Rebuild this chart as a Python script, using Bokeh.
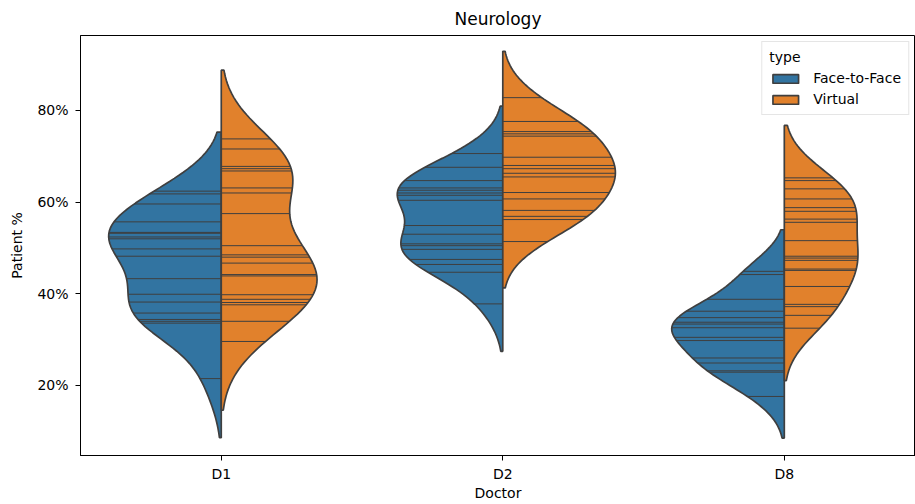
import numpy as np
from bokeh.plotting import figure
from bokeh.models import FixedTicker, Legend, LegendItem
from bokeh.embed import file_html
from bokeh.resources import INLINE

doctors = ["D1", "D2", "D8"]
types = ["Face-to-Face", "Virtual"]
colors = ["#3274a1", "#e1812c"]
y_ticks = [20, 40, 60, 80]
y_tick_labels = ["20%", "40%", "60%", "80%"]

# observed patient % (one value per stick)
d1_face = [62.4, 61.8, 59.6, 55.7, 53.4, 53.2, 52.4, 52.0, 49.8, 48.2,
           43.3, 39.9, 38.2, 35.8, 34.4, 34.0, 33.6, 21.5]
d1_virtual = [73.8, 71.6, 67.8, 67.3, 66.8, 63.1, 62.0, 57.5, 50.5, 48.5,
              48.0, 46.7, 44.2, 43.9, 39.8, 38.8, 38.1, 37.6, 34.0, 29.6]
d2_face = [70.6, 67.6, 64.7, 63.1, 62.6, 62.0, 61.5, 60.4, 54.9, 53.0,
           50.9, 50.5, 49.7, 47.5, 46.4, 44.7, 37.8]
d2_virtual = [82.8, 77.6, 75.4, 74.9, 74.4, 69.8, 68.0, 67.3, 66.3, 65.5,
              62.1, 60.7, 58.2, 56.9, 56.2, 51.4]
d8_face = [44.9, 44.2, 38.8, 36.2, 34.8, 33.8, 33.4, 32.6, 30.5, 29.8,
           26.0, 24.9, 23.2, 22.9, 17.6]
d8_virtual = [65.3, 64.7, 62.9, 60.7, 58.8, 58.0, 56.3, 55.6, 51.6, 48.2,
              47.8, 47.3, 45.4, 45.1, 41.6, 37.7, 37.2, 35.3, 32.5]

data = {
    "Face-to-Face": [d1_face, d2_face, d8_face],
    "Virtual": [d1_virtual, d2_virtual, d8_virtual],
}


def kde(obs, gridsize=100, cut=2):
    x = np.asarray(obs, float)
    n = len(x)
    bw = x.std(ddof=1) * n ** (-1 / 5)
    grid = np.linspace(x.min() - cut * bw, x.max() + cut * bw, gridsize)
    dens = np.exp(-0.5 * ((grid[:, None] - x[None, :]) / bw) ** 2).sum(1)
    dens /= n * bw * np.sqrt(2 * np.pi)
    return grid, dens


LINE = "#3f3f3f"
FONT = "DejaVu Sans"

p = figure(frame_width=835, frame_height=420, min_border_left=80,
           min_border_right=0, min_border_top=35, min_border_bottom=49,
           x_range=(-0.5, 2.466), y_range=(4.72, 96.36),
           output_backend="svg", toolbar_location=None, tools="")

kdes = {t: [kde(obs) for obs in data[t]] for t in types}
# scale within each doctor: the wider half gets the full half-width
cat_max = [max(kdes[t][i][1].max() for t in types) for i in range(len(doctors))]

legend_items = []
half = 0.4
for k, t in enumerate(types):
    side = -1 if k == 0 else 1
    xs, ys = [], []
    sx0, sx1, sy = [], [], []
    for i, ((grid, dens), obs) in enumerate(zip(kdes[t], data[t])):
        w = half * dens / cat_max[i]
        xs.append(list(i + side * w) + [i, i])
        ys.append(list(grid) + [grid[-1], grid[0]])
        ob = np.asarray(obs, float)
        wo = half * np.interp(ob, grid, dens) / cat_max[i]
        sx0 += [i] * len(ob)
        sx1 += list(i + side * wo)
        sy += list(ob)
    r = p.patches(xs, ys, fill_color=colors[k], line_color=LINE, line_width=1.7)
    p.segment(x0=sx0, y0=sy, x1=sx1, y1=sy, line_color=LINE, line_width=1.0)
    legend_items.append(LegendItem(label=t, renderers=[r]))

legend = Legend(items=legend_items, location="top_right", title="type")
legend.title_text_font = FONT
legend.title_text_font_size = "14px"
legend.title_text_font_style = "normal"
legend.title_text_color = "black"
legend.title_standoff = 5
legend.label_text_font = FONT
legend.label_text_font_size = "14px"
legend.label_text_color = "black"
legend.label_standoff = 12
legend.border_line_color = "#cccccc"
legend.border_line_width = 1
legend.background_fill_alpha = 0.8
legend.margin = 6
legend.padding = 7
legend.spacing = 5
legend.glyph_width = 32
legend.glyph_height = 11
p.add_layout(legend)

p.title.text = "Neurology"
p.title.align = "center"
p.title.text_font = FONT
p.title.text_font_size = "17px"
p.title.text_font_style = "normal"
p.title.text_color = "black"
p.title.standoff = 13

p.xaxis.ticker = FixedTicker(ticks=[0, 1, 2])
p.xaxis.major_label_overrides = {i: d for i, d in enumerate(doctors)}
p.yaxis.ticker = FixedTicker(ticks=y_ticks)
p.yaxis.major_label_overrides = {v: l for v, l in zip(y_ticks, y_tick_labels)}
p.xaxis.axis_label = "Doctor"
p.yaxis.axis_label = "Patient %"
for ax in (p.xaxis, p.yaxis):
    ax.axis_label_text_font = FONT
    ax.axis_label_text_font_size = "14px"
    ax.axis_label_text_font_style = "normal"
    ax.major_label_text_font = FONT
    ax.major_label_text_font_size = "14px"
    ax.major_tick_in = 0
    ax.major_tick_out = 5
    ax.minor_tick_line_color = None
    ax.axis_line_color = "black"
    ax.major_tick_line_color = "black"
    ax.major_label_text_color = "black"
    ax.axis_label_text_color = "black"
p.xaxis.major_label_standoff = 5
p.yaxis.major_label_standoff = 7
p.xaxis.axis_label_standoff = 0
p.yaxis.axis_label_standoff = 9
p.xgrid.grid_line_color = None
p.ygrid.grid_line_color = None
p.outline_line_color = "black"
p.outline_line_width = 1

open("out.html", "w").write(file_html(p, INLINE))
